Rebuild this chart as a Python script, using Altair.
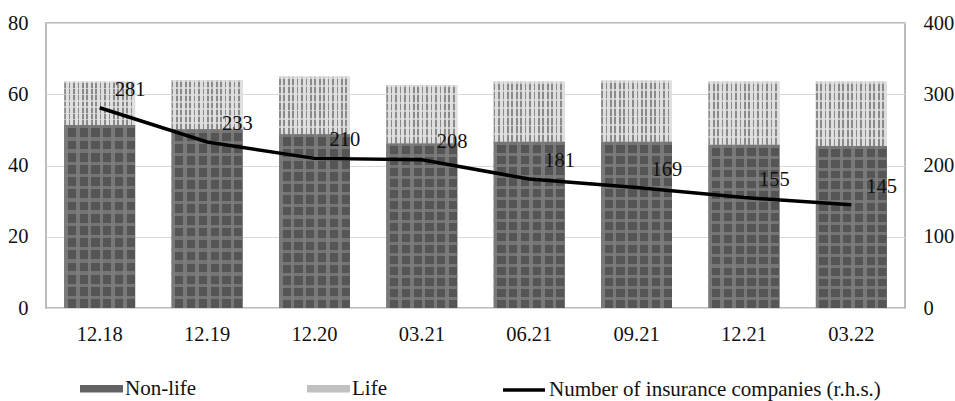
import altair as alt
import pandas as pd

# ---- data ----
periods = ["12.18", "12.19", "12.20", "03.21", "06.21", "09.21", "12.21", "03.22"]
non_life = [51.4, 50.2, 48.8, 46.2, 46.7, 46.7, 45.8, 45.5]
life = [12.1, 13.8, 16.1, 16.4, 16.8, 17.1, 17.7, 18.0]
companies = [281, 233, 210, 208, 181, 169, 155, 145]
bar_series = ["Non-life", "Life"]
line_series = "Number of insurance companies (r.h.s.)"

rows = []
for p, nl, lf in zip(periods, non_life, life):
    rows.append({"period": p, "type": bar_series[0], "value": nl, "order": 0})
    rows.append({"period": p, "type": bar_series[1], "value": lf, "order": 1})
bars_df = pd.DataFrame(rows)
line_df = pd.DataFrame({
    "period": periods,
    "companies": companies,
    "series": [line_series] * len(periods),
})

FONT = "Liberation Serif"
FS = 20.5
TXT = "#111111"


def stripes(c_line, c_bg, n, frac, across=True):
    """Striped linear gradient used as a hatch-like fill texture."""
    stops = []
    for i in range(n):
        a = i / n
        b = (i + frac) / n
        c = min((i + 1) / n, 1.0)
        stops += [{"offset": a, "color": c_line}, {"offset": b, "color": c_line},
                  {"offset": b, "color": c_bg}, {"offset": c, "color": c_bg}]
    g = {"gradient": "linear", "stops": stops}
    if across:
        g.update({"x1": 0, "x2": 1, "y1": 0, "y2": 0})
    else:
        g.update({"x1": 0, "x2": 0, "y1": 0, "y2": 1})
    return g


life_tex = stripes("#8a8a8a", "#dedede", 16, 0.38, across=True)
nonlife_tex = stripes("#787878", "#555555", 6, 0.3, across=True)
nonlife_rows = stripes("rgba(125,125,125,0.8)", "rgba(0,0,0,0)", 15, 0.28, across=False)
life_rows = stripes("rgba(225,225,225,0.7)", "rgba(0,0,0,0)", 7, 0.22, across=False)

x_enc = alt.X(
    "period:N", sort=periods,
    scale=alt.Scale(paddingInner=0.34, paddingOuter=0.17),
    axis=alt.Axis(title=None, labelAngle=0, ticks=False, domain=False,
                  labelPadding=16, labelFontSize=FS, labelFont=FONT, labelColor=TXT),
)

y_left = alt.Y("value:Q", stack="zero",
               scale=alt.Scale(domain=[0, 80], nice=False),
               axis=alt.Axis(title=None, values=[0, 20, 40, 60, 80], orient="left",
                             ticks=False, domain=False, labelPadding=18,
                             grid=True, gridColor="#d9d9d9", gridWidth=1.2,
                             labelFontSize=FS, labelFont=FONT, labelColor=TXT))

bars = alt.Chart(bars_df).mark_bar(stroke=None).encode(
    x=x_enc,
    y=y_left,
    color=alt.Color("type:N",
                    scale=alt.Scale(domain=bar_series, range=["#626262", "#c0c0c0"]),
                    legend=alt.Legend(
                        title=None, orient="none", direction="horizontal",
                        legendX=34, legendY=344,
                        symbolType="M-1,-0.18H1V0.18H-1Z", symbolSize=1849,
                        symbolStrokeWidth=0, labelFontSize=21, labelOffset=2,
                        labelLimit=0, columnPadding=110,
                        labelFont=FONT, labelColor=TXT)),
    order=alt.Order("order:Q"),
)

is_life = alt.datum.type == bar_series[1]

texture = alt.Chart(bars_df).mark_bar(stroke=None).encode(
    x=alt.X("period:N", sort=periods),
    y=alt.Y("value:Q", stack="zero"),
    detail="type:N",
    fill=alt.condition(is_life, alt.value(life_tex), alt.value(nonlife_tex)),
    order=alt.Order("order:Q"),
)

texture_rows = alt.Chart(bars_df).mark_bar(stroke=None).encode(
    x=alt.X("period:N", sort=periods),
    y=alt.Y("value:Q", stack="zero"),
    detail="type:N",
    fill=alt.condition(is_life, alt.value(life_rows), alt.value(nonlife_rows)),
    order=alt.Order("order:Q"),
)

y_right = alt.Y("companies:Q",
                scale=alt.Scale(domain=[0, 400], nice=False),
                axis=alt.Axis(title=None, values=[0, 100, 200, 300, 400], orient="right",
                              ticks=False, domain=False, grid=False, labelPadding=18,
                              labelFontSize=FS, labelFont=FONT, labelColor=TXT))

line = alt.Chart(line_df).mark_line(strokeWidth=3.5).encode(
    x=alt.X("period:N", sort=periods),
    y=y_right,
    stroke=alt.Stroke("series:N",
                      scale=alt.Scale(domain=[line_series], range=["#000000"]),
                      legend=alt.Legend(
                          title=None, orient="none", direction="horizontal",
                          legendX=455, legendY=344,
                          symbolType="stroke", symbolSize=1764,
                          symbolStrokeWidth=3.5, labelFontSize=21, labelOffset=2,
                          labelLimit=0, labelFont=FONT, labelColor=TXT)),
)

labels = alt.Chart(line_df).mark_text(
    align="left", baseline="middle", dx=15, dy=-18,
    font=FONT, fontSize=FS, color=TXT,
).encode(
    x=alt.X("period:N", sort=periods),
    y=y_right,
    text=alt.Text("companies:Q"),
)

left_part = alt.layer(bars, texture, texture_rows)
right_part = alt.layer(line, labels)

chart = alt.layer(left_part, right_part).resolve_scale(
    y="independent", color="independent", stroke="independent"
).properties(
    width=859, height=285,
    autosize=alt.AutoSizeParams(type="none"),
    padding={"left": 46, "top": 23, "right": 50, "bottom": 93},
).configure(
    font=FONT,
).configure_view(
    stroke="#a6a6a6", strokeWidth=1.5,
).configure_legend(
    labelFont=FONT, labelColor=TXT, labelFontSize=21,
)

chart.save("out.html", embed_options={"renderer": "svg", "actions": False})
